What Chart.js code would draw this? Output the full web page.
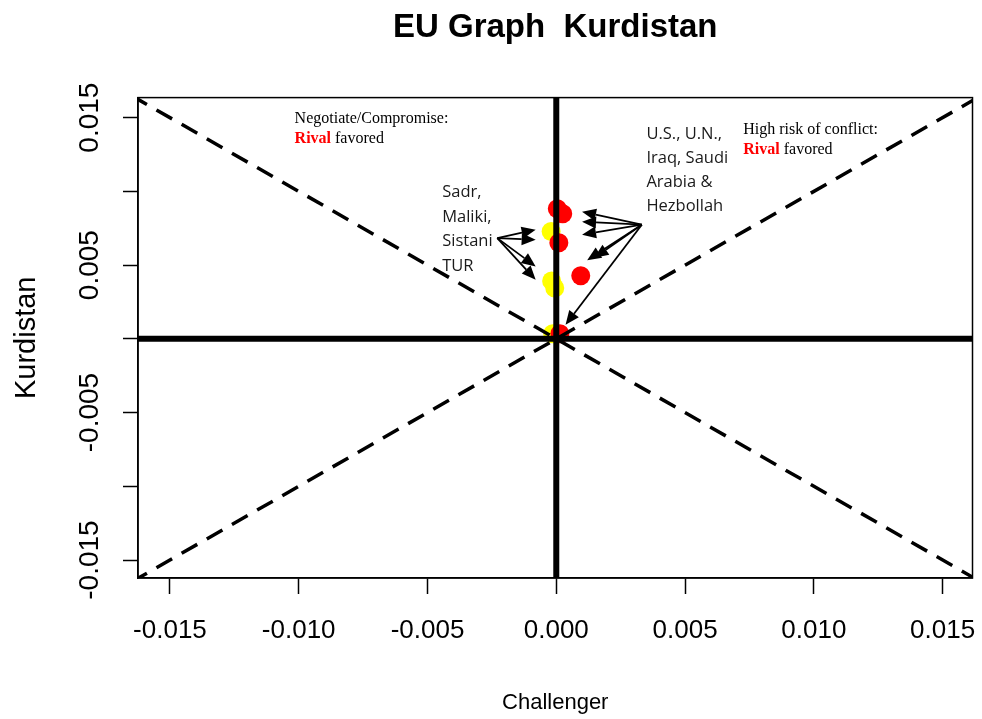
<!DOCTYPE html>
<html>
<head>
<meta charset="utf-8">
<script src="https://cdn.jsdelivr.net/npm/chart.js@4.4.0/dist/chart.umd.min.js"></script>
<style>
html,body{margin:0;padding:0;background:#ffffff;}
#wrap{width:982px;height:719px;}
</style>
</head>
<body>
<div id="wrap"><canvas id="c" width="982" height="719"></canvas></div>
<script>
// ---------- data ----------
const chartTitle = 'EU Graph  Kurdistan';
const xAxisTitle = 'Challenger';
const yAxisTitle = 'Kurdistan';

const xTicks = [-0.015, -0.010, -0.005, 0.000, 0.005, 0.010, 0.015];
const xTickLabels = ['-0.015', '-0.010', '-0.005', '0.000', '0.005', '0.010', '0.015'];
const yTicks = [-0.015, -0.010, -0.005, 0.000, 0.005, 0.010, 0.015];
const yTickLabels = ['-0.015', '', '-0.005', '', '0.005', '', '0.015'];

// actors favouring the rival (red) and the challenger side (yellow)
const redX = [0.00004, 0.00025, 0.00010, 0.00095, 0.00014];
const redY = [0.00882, 0.00848, 0.00652, 0.00428, 0.00034];
const yellowX = [-0.00020, -0.00018, -0.00006, -0.00014];
const yellowY = [0.00728, 0.00393, 0.00345, 0.00034];

// reference lines
const diagX = [-0.0165, 0.0165];
const diagUpY = [-0.0165, 0.0165];
const diagDownY = [0.0165, -0.0165];
const vLineX = [0, 0];
const vLineY = [-0.0165, 0.0165];
const hLineX = [-0.0165, 0.0165];
const hLineY = [0, 0];

// annotation texts
const sadrLabel = ['Sadr,', 'Maliki,', 'Sistani', 'TUR'];
const usLabel = ['U.S., U.N.,', 'Iraq, Saudi', 'Arabia &', 'Hezbollah'];
const negotiateLabel = ['Negotiate/Compromise:', 'Rival', ' favored'];
const highRiskLabel = ['High risk of conflict:', 'Rival', ' favored'];

// arrows (data units): tail and heads
const sadrArrowFrom = [-0.00229, 0.00683];
const sadrArrowToX = [-0.00080, -0.00080, -0.00080, -0.00080];
const sadrArrowToY = [0.00740, 0.00672, 0.00491, 0.00400];
const usArrowFrom = [0.00332, 0.00774];
const usArrowToX = [0.00100, 0.00100, 0.00100, 0.00120, 0.00148, 0.00036];
const usArrowToY = [0.00862, 0.00794, 0.00706, 0.00533, 0.00550, 0.00095];

// ---------- build ----------
const zip = (xs, ys) => xs.map((v, i) => ({x: v, y: ys[i]}));

const annotConf = {
  negotiate: {x: -0.01016, y: 0.01493, gap: 20},
  highRisk: {x: 0.00726, y: 0.01419, gap: 20},
  us: {x: 0.00350, y: 0.01384, gap: 24},
  sadr: {x: -0.00443, y: 0.00991, gap: 24.5}
};

function drawArrow(ctx, x1, y1, x2, y2) {
  const ang = Math.atan2(y2 - y1, x2 - x1);
  const hl = 14, hw = 6;
  const bx = x2 - hl * Math.cos(ang), by = y2 - hl * Math.sin(ang);
  ctx.beginPath();
  ctx.moveTo(x1, y1);
  ctx.lineTo(bx, by);
  ctx.stroke();
  ctx.beginPath();
  ctx.moveTo(x2, y2);
  ctx.lineTo(bx + hw * Math.sin(ang), by - hw * Math.cos(ang));
  ctx.lineTo(bx - hw * Math.sin(ang), by + hw * Math.cos(ang));
  ctx.closePath();
  ctx.fill();
}

const annotPlugin = {
  id: 'annot',
  afterDatasetsDraw(chart) {
    const {ctx, chartArea: a, scales: {x, y}} = chart;
    ctx.save();
    // frame
    ctx.strokeStyle = '#000';
    ctx.lineWidth = 1.5;
    ctx.strokeRect(a.left, a.top, a.right - a.left, a.bottom - a.top);

    // arrows
    ctx.lineWidth = 1.8;
    ctx.fillStyle = '#000';
    const sx = x.getPixelForValue(sadrArrowFrom[0]), sy = y.getPixelForValue(sadrArrowFrom[1]);
    sadrArrowToX.forEach((v, i) => drawArrow(ctx, sx, sy, x.getPixelForValue(v), y.getPixelForValue(sadrArrowToY[i])));
    const ux = x.getPixelForValue(usArrowFrom[0]), uy = y.getPixelForValue(usArrowFrom[1]);
    usArrowToX.forEach((v, i) => drawArrow(ctx, ux, uy, x.getPixelForValue(v), y.getPixelForValue(usArrowToY[i])));

    // serif two-line labels
    ctx.textBaseline = 'middle';
    ctx.textAlign = 'left';
    const serifLabel = (lbl, c) => {
      const px = x.getPixelForValue(c.x), py = y.getPixelForValue(c.y);
      ctx.font = '16px "Liberation Serif", "Times New Roman", serif';
      ctx.fillStyle = '#000';
      ctx.fillText(lbl[0], px, py);
      ctx.font = 'bold 16px "Liberation Serif", "Times New Roman", serif';
      ctx.fillStyle = '#ff0000';
      ctx.fillText(lbl[1], px, py + c.gap);
      const w = ctx.measureText(lbl[1]).width;
      ctx.font = '16px "Liberation Serif", "Times New Roman", serif';
      ctx.fillStyle = '#000';
      ctx.fillText(lbl[2], px + w, py + c.gap);
    };
    serifLabel(negotiateLabel, annotConf.negotiate);
    serifLabel(highRiskLabel, annotConf.highRisk);

    // sans multi-line labels
    const sansLabel = (lines, c) => {
      const px = x.getPixelForValue(c.x), py = y.getPixelForValue(c.y);
      ctx.font = '16.5px "Open Sans", "Noto Sans", sans-serif';
      ctx.fillStyle = '#1a1a1a';
      lines.forEach((t, i) => ctx.fillText(t, px, py + i * c.gap));
    };
    sansLabel(usLabel, annotConf.us);
    sansLabel(sadrLabel, annotConf.sadr);
    ctx.restore();
  }
};

const lineDs = (xs, ys, width, dash) => ({
  type: 'line',
  data: zip(xs, ys),
  borderColor: '#000',
  borderWidth: width,
  borderDash: dash,
  pointRadius: 0,
  fill: false,
  clip: 0,
  order: 0
});

const sansFont = '"Liberation Sans", Arial, sans-serif';
const noPad = s => { s.paddingLeft = 0; s.paddingRight = 0; s.paddingTop = 0; s.paddingBottom = 0; };

new Chart(document.getElementById('c'), {
  type: 'scatter',
  data: {
    datasets: [
      lineDs(vLineX, vLineY, 6, []),
      lineDs(hLineX, hLineY, 6, []),
      lineDs(diagX, diagUpY, 3.5, [18, 11]),
      lineDs(diagX, diagDownY, 3.5, [18, 11]),
      {
        label: 'Rival favored',
        data: zip(redX, redY),
        backgroundColor: '#ff0000',
        borderWidth: 0,
        pointRadius: 9.5,
        pointHoverRadius: 9.5,
        order: 1
      },
      {
        label: 'Challenger favored',
        data: zip(yellowX, yellowY),
        backgroundColor: '#ffff00',
        borderWidth: 0,
        pointRadius: 9.5,
        pointHoverRadius: 9.5,
        order: 2
      }
    ]
  },
  options: {
    responsive: false,
    animation: false,
    devicePixelRatio: 1,
    layout: {padding: {left: 0, right: 7, top: 0, bottom: 0}},
    plugins: {
      legend: {display: false},
      tooltip: {enabled: false},
      title: {
        display: true,
        fullSize: false,
        text: chartTitle,
        color: '#000',
        font: {family: sansFont, size: 33, weight: 'bold', lineHeight: 1.2},
        padding: {top: 8, bottom: 50}
      }
    },
    scales: {
      x: {
        type: 'linear',
        min: -0.01624,
        max: 0.01616,
        afterBuildTicks: s => { s.ticks = xTicks.map(v => ({value: v})); },
        afterFit: s => { s.height = 141; noPad(s); },
        ticks: {
          autoSkip: false,
          minRotation: 0,
          maxRotation: 0,
          padding: 21,
          color: '#000',
          font: {family: sansFont, size: 26},
          callback: (v, i) => xTickLabels[i]
        },
        grid: {drawOnChartArea: false, drawTicks: true, tickLength: 16, tickColor: '#000', tickWidth: 1.5},
        border: {display: true, color: '#000', width: 1.5},
        title: {
          display: true,
          text: xAxisTitle,
          color: '#000',
          font: {family: sansFont, size: 22, lineHeight: 1.2},
          padding: {top: 0, bottom: 3}
        }
      },
      y: {
        type: 'linear',
        min: -0.01622,
        max: 0.01636,
        afterBuildTicks: s => { s.ticks = yTicks.map(v => ({value: v})); },
        afterFit: s => { s.width = 138; noPad(s); },
        ticks: {
          autoSkip: false,
          minRotation: 90,
          maxRotation: 90,
          crossAlign: 'center',
          padding: -7,
          color: '#000',
          font: {family: sansFont, size: 28},
          callback: (v, i) => yTickLabels[i]
        },
        grid: {drawOnChartArea: false, drawTicks: true, tickLength: 15, tickColor: '#000', tickWidth: 1.5},
        border: {display: true, color: '#000', width: 1.5},
        title: {
          display: true,
          text: yAxisTitle,
          color: '#000',
          font: {family: sansFont, size: 29, lineHeight: 1.2},
          padding: {top: 10, bottom: 0}
        }
      }
    }
  },
  plugins: [annotPlugin]
});
</script>
</body>
</html>
